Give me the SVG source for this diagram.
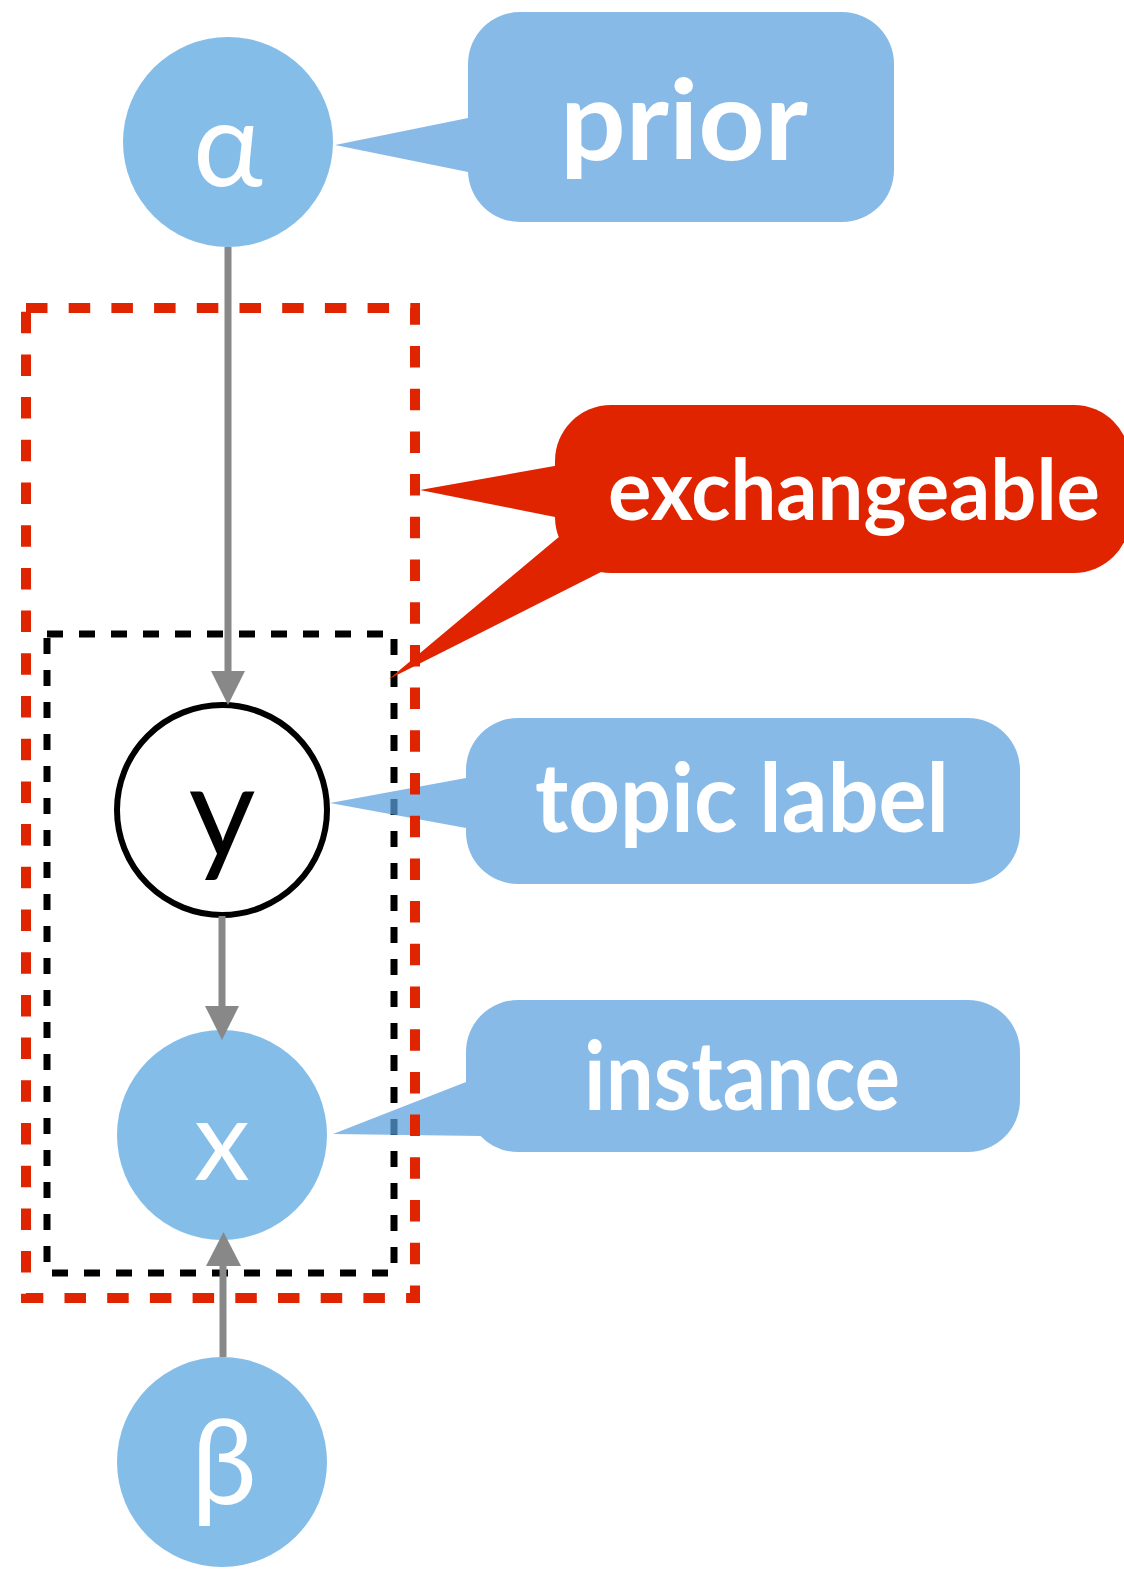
<svg xmlns="http://www.w3.org/2000/svg" width="1124" height="1570" viewBox="0 0 1124 1570">
  <style>
    .node { fill: #85BDE9; }
    .label { font-family: Lato, "Liberation Sans", "DejaVu Sans", sans-serif; font-weight: bold; fill: #ffffff; text-anchor: middle; }
    .sym { font-family: Lato, "DejaVu Sans", sans-serif; text-anchor: middle; }
    .edge { stroke: #888888; stroke-width: 7; fill: none; }
    .head { fill: #888888; }
    .callout { fill: #5A9FDF; fill-opacity: 0.72; }
    .warn { fill: #E02400; }
  </style>
  <rect width="1124" height="1570" fill="#ffffff"/>

  <!-- inner plate -->
  <rect id="plate-inner" x="47" y="634" width="347" height="639" fill="none" stroke="#000000" stroke-width="7" stroke-dasharray="16 16"/>

  <!-- nodes -->
  <g id="node-alpha">
    <circle class="node" cx="228" cy="142" r="105"/>
    <text class="sym" x="228" y="186" font-size="118" fill="#ffffff">α</text>
  </g>
  <g id="node-y">
    <circle cx="222" cy="810" r="105" fill="#ffffff" stroke="#000000" stroke-width="6"/>
    <text class="sym" x="222" y="858" font-size="130" fill="#000000">y</text>
  </g>
  <g id="node-x">
    <circle class="node" cx="222" cy="1135" r="105"/>
    <text class="sym" x="222" y="1180" font-size="112" fill="#ffffff">x</text>
  </g>
  <g id="node-beta">
    <circle class="node" cx="222" cy="1462" r="105"/>
    <text class="sym" x="224" y="1504" font-size="118" fill="#ffffff">β</text>
  </g>

  <!-- connectors -->
  <g id="connectors">
    <line class="edge" x1="228" y1="247" x2="228" y2="680"/>
    <polygon class="head" points="211,671 245,671 228,705"/>
    <line class="edge" x1="222" y1="916" x2="222" y2="1015"/>
    <polygon class="head" points="205,1006 239,1006 222,1040"/>
    <line class="edge" x1="223" y1="1357" x2="223" y2="1255"/>
    <polygon class="head" points="206,1266 241,1266 223.5,1232"/>
  </g>

  <!-- callouts -->
  <g id="callout-prior">
    <path class="callout" d="M335,145 L468,118 V64 A52,52 0 0 1 520,12 H842 A52,52 0 0 1 894,64 V170 A52,52 0 0 1 842,222 H520 A52,52 0 0 1 468,172 Z"/>
    <text class="label" x="684" y="160" font-size="112" textLength="248" lengthAdjust="spacingAndGlyphs">prior</text>
  </g>
  <g id="callout-topic">
    <path class="callout" d="M330,803 L466,778 V770 A52,52 0 0 1 518,718 H968 A52,52 0 0 1 1020,770 V832 A52,52 0 0 1 968,884 H518 A52,52 0 0 1 466,832 V828 Z"/>
    <text class="label" x="742" y="832" font-size="96" textLength="414" lengthAdjust="spacingAndGlyphs">topic label</text>
  </g>
  <g id="callout-instance">
    <path class="callout" d="M333,1134 L466,1082 V1052 A52,52 0 0 1 518,1000 H968 A52,52 0 0 1 1020,1052 V1100 A52,52 0 0 1 968,1152 H518 A52,52 0 0 1 480.5,1136 Z"/>
    <text class="label" x="742" y="1110" font-size="96" textLength="316" lengthAdjust="spacingAndGlyphs">instance</text>
  </g>

  <!-- outer plate -->
  <rect id="plate-outer" x="26" y="308" width="389" height="990" fill="none" stroke="#E02400" stroke-width="10" stroke-dasharray="21.5 21.2"/>

  <g id="callout-exchangeable">
    <rect class="warn" x="555" y="405" width="575" height="168" rx="56"/>
    <polygon class="warn" points="420,490 560,465 560,518"/>
    <polygon class="warn" points="560,536 389,679 605,570"/>
    <text class="label" x="854" y="520" font-size="84" textLength="492" lengthAdjust="spacingAndGlyphs">exchangeable</text>
  </g>
</svg>
